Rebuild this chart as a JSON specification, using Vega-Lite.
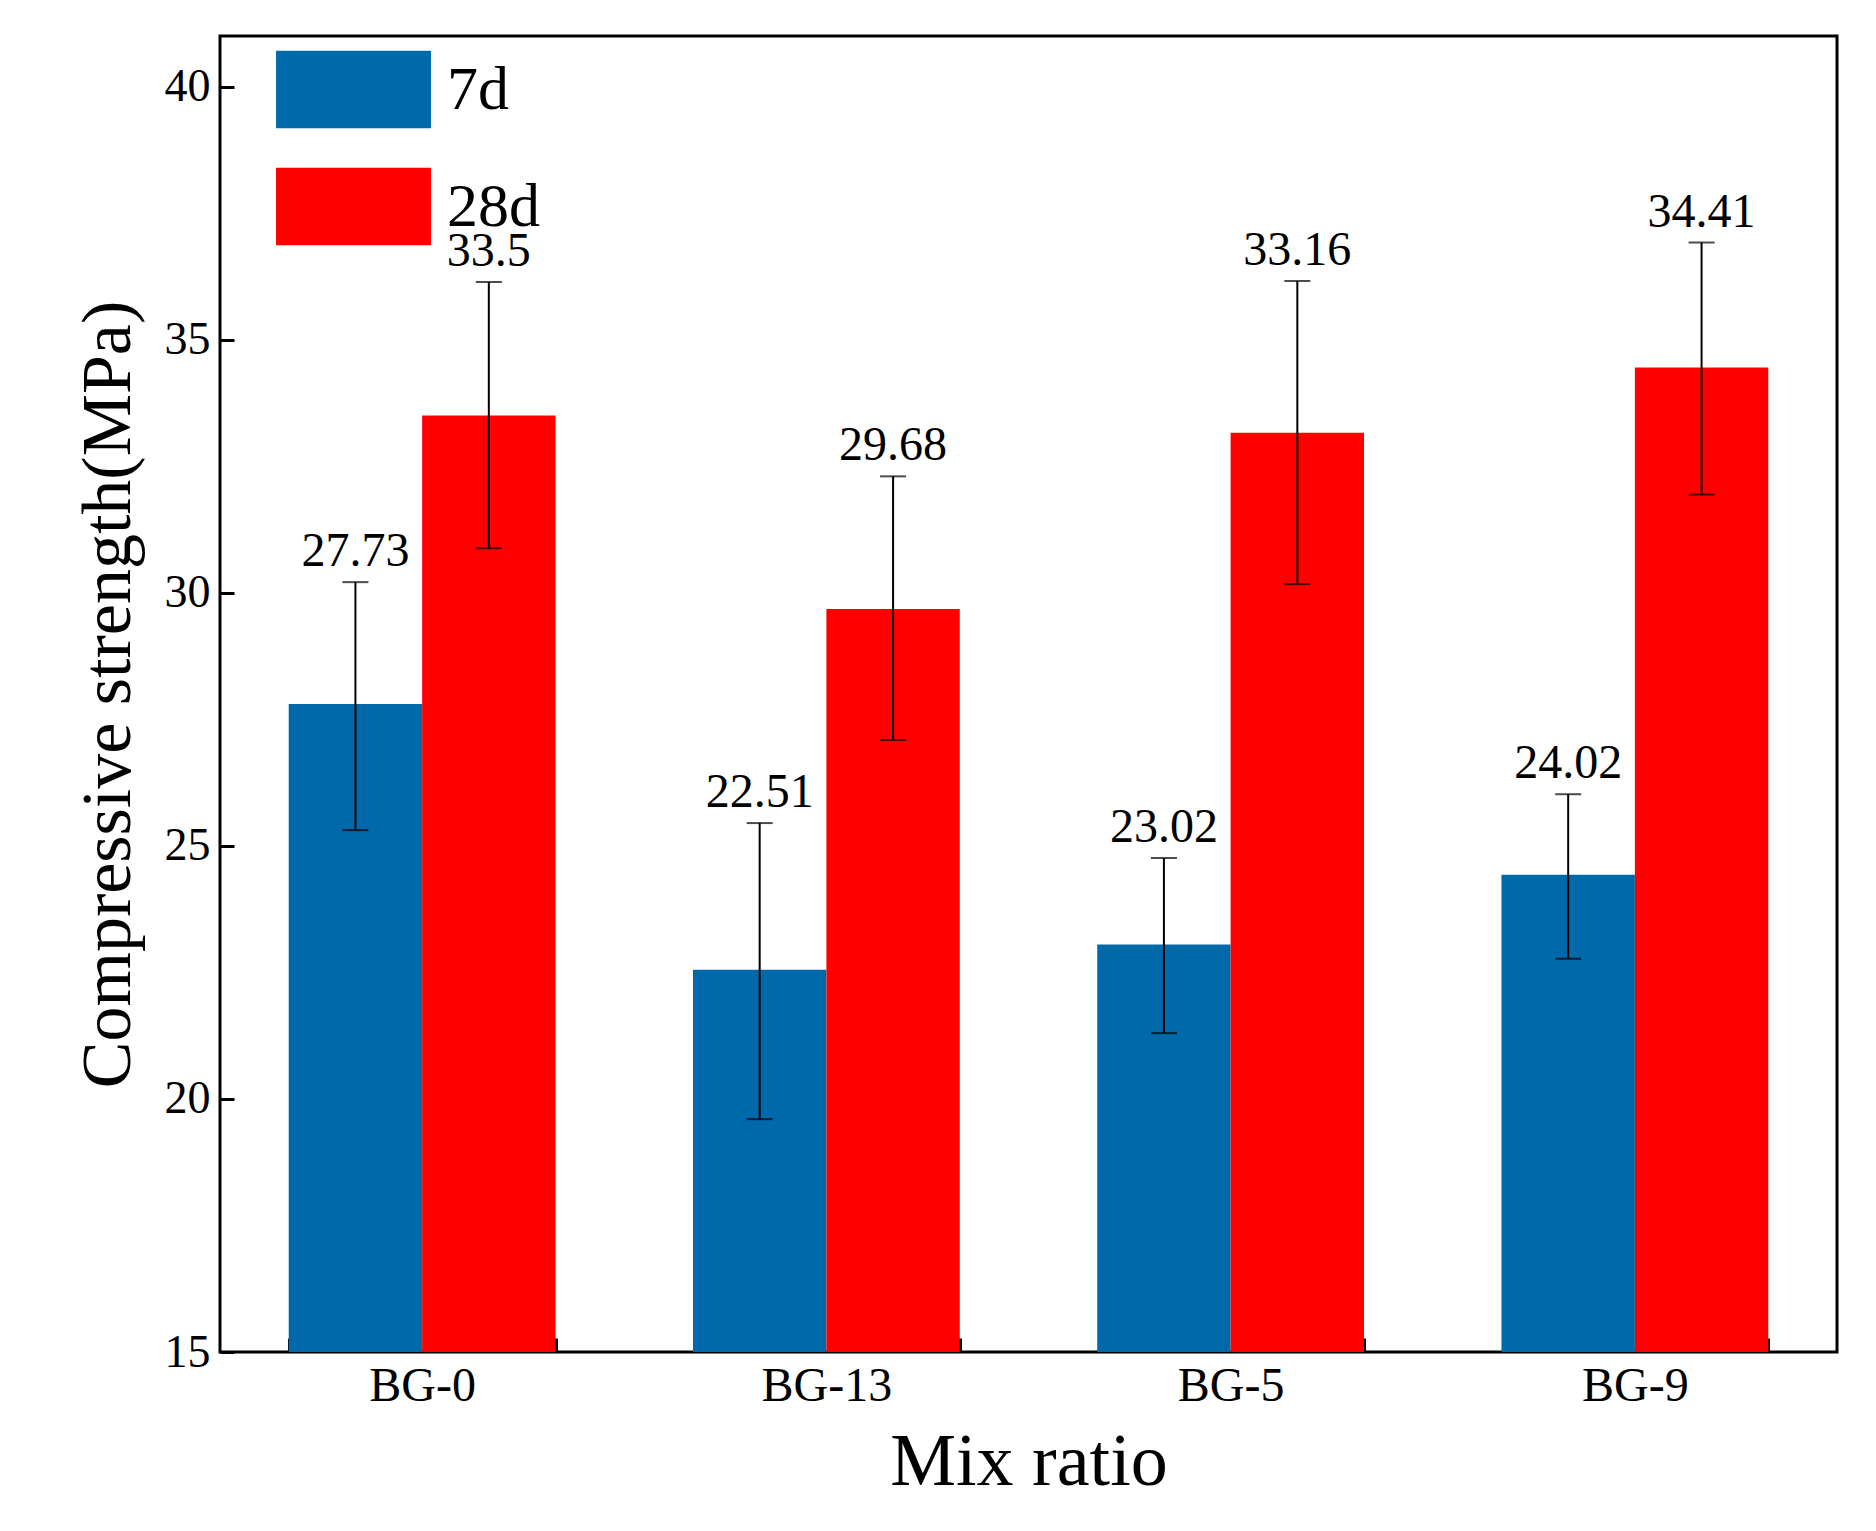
{
  "$schema": "https://vega.github.io/schema/vega-lite/v6.json",
  "autosize": "none",
  "width": 1617,
  "height": 1316,
  "padding": {"left": 220, "top": 36, "right": 39, "bottom": 179},
  "background": "white",
  "config": {
    "font": "Liberation Serif",
    "view": {"stroke": "black", "strokeWidth": 3},
    "axis": {"labelFont": "Liberation Serif", "titleFont": "Liberation Serif", "labelColor": "black", "titleColor": "black", "titleFontWeight": "normal", "domain": false, "tickColor": "black", "tickWidth": 3, "grid": false}
  },
  "data": {
    "values": [
      {"mix": "BG-0", "age": "7d", "value": 27.8, "label": "27.73", "lo": 25.31, "hi": 30.21},
      {"mix": "BG-0", "age": "28d", "value": 33.5, "label": "33.5", "lo": 30.88, "hi": 36.14},
      {"mix": "BG-13", "age": "7d", "value": 22.55, "label": "22.51", "lo": 19.6, "hi": 25.45},
      {"mix": "BG-13", "age": "28d", "value": 29.68, "label": "29.68", "lo": 27.09, "hi": 32.3},
      {"mix": "BG-5", "age": "7d", "value": 23.05, "label": "23.02", "lo": 21.3, "hi": 24.76},
      {"mix": "BG-5", "age": "28d", "value": 33.16, "label": "33.16", "lo": 30.17, "hi": 36.16},
      {"mix": "BG-9", "age": "7d", "value": 24.43, "label": "24.02", "lo": 22.77, "hi": 26.02},
      {"mix": "BG-9", "age": "28d", "value": 34.45, "label": "34.41", "lo": 31.94, "hi": 36.92}
    ]
  },
  "encoding": {
    "x": {
      "field": "mix", "type": "nominal", "sort": ["BG-0", "BG-13", "BG-5", "BG-9"],
      "scale": {"paddingInner": 0.34, "paddingOuter": 0.17},
      "axis": {"title": "Mix ratio", "titleFontSize": 74, "labelFontSize": 48, "labelAngle": 0, "tickSize": -14, "tickBand": "extent", "labelPadding": 24, "titlePadding": 16}
    },
    "xOffset": {"field": "age", "type": "nominal", "sort": ["7d", "28d"], "scale": {"paddingInner": 0, "paddingOuter": 0}}
  },
  "layer": [
    {
      "mark": {"type": "bar"},
      "encoding": {
        "y": {"field": "value", "type": "quantitative", "scale": {"domain": [15, 41], "zero": false, "nice": false},
          "axis": {"title": "Compressive strength(MPa)", "titleFontSize": 70, "labelFontSize": 46, "values": [15, 20, 25, 30, 35, 40], "tickSize": -14, "labelPadding": 24, "titlePadding": 20}},
        "y2": {"datum": 15},
        "color": {"field": "age", "type": "nominal", "sort": ["7d", "28d"],
          "scale": {"domain": ["7d", "28d"], "range": ["#0069AA", "#FF0000"]},
          "legend": {"title": null, "orient": "none", "legendX": 56, "legendY": -24, "labelFontSize": 62, "labelColor": "black", "symbolType": "M-1,-0.5H1V0.5H-1Z", "symbolSize": 24000, "symbolStrokeWidth": 0, "symbolOpacity": 1, "rowPadding": -72, "labelOffset": 16}}
      }
    },
    {
      "mark": {"type": "rule", "color": "black", "strokeWidth": 2},
      "encoding": {"y": {"field": "lo", "type": "quantitative"}, "y2": {"field": "hi"}}
    },
    {
      "mark": {"type": "tick", "color": "black", "thickness": 2, "size": 26, "orient": "horizontal"},
      "encoding": {"y": {"field": "lo", "type": "quantitative"}}
    },
    {
      "mark": {"type": "tick", "color": "black", "thickness": 2, "size": 26, "orient": "horizontal"},
      "encoding": {"y": {"field": "hi", "type": "quantitative"}}
    },
    {
      "mark": {"type": "text", "fontSize": 48, "dy": -30, "color": "black"},
      "encoding": {"y": {"field": "hi", "type": "quantitative"}, "text": {"field": "label"}}
    }
  ]
}
